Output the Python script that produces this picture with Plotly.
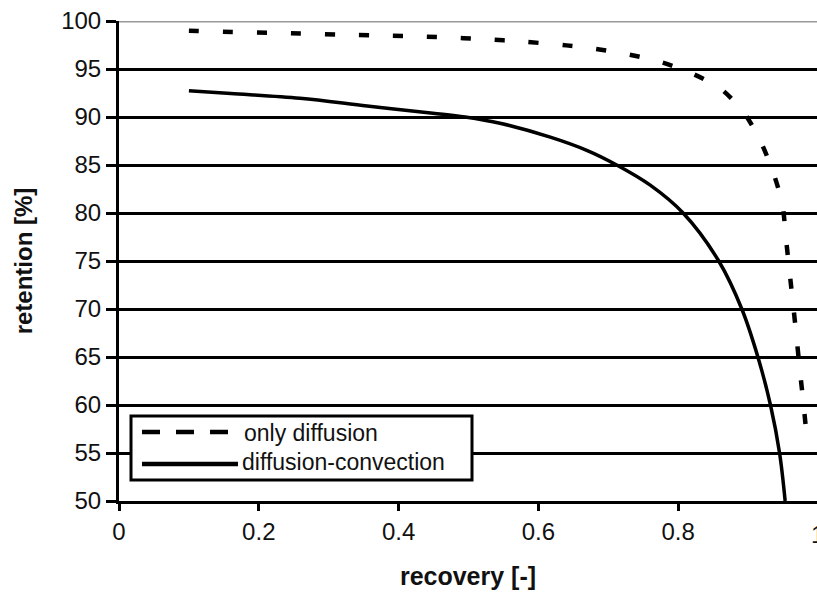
import plotly.graph_objects as go

# recovery [-] vs retention [%]
diff_x = [0.100, 0.112, 0.162, 0.213, 0.260, 0.313, 0.365, 0.415, 0.465, 0.520, 0.580,
          0.640, 0.680, 0.720, 0.769, 0.814, 0.860, 0.893, 0.918, 0.936, 0.949, 0.954,
          0.959, 0.964, 0.969, 0.974, 0.979, 0.984]
diff_y = [98.98, 98.96, 98.86, 98.78, 98.70, 98.58, 98.50, 98.42, 98.30, 98.12, 97.84,
          97.46, 97.12, 96.64, 95.86, 94.72, 92.99, 90.55, 87.43, 84.20, 80.94, 77.47,
          74.06, 70.73, 67.29, 63.65, 60.31, 56.60]

conv_x = [0.100, 0.160, 0.259, 0.355, 0.449, 0.495, 0.545, 0.617, 0.670, 0.712, 0.760,
          0.807, 0.858, 0.891, 0.914, 0.932, 0.945, 0.953]
conv_y = [92.74, 92.45, 91.95, 91.15, 90.40, 90.00, 89.35, 87.90, 86.50, 85.00, 82.90,
          80.00, 75.00, 70.00, 65.00, 60.00, 55.00, 50.00]

series_names = ["only diffusion", "diffusion-convection"]
x_ticks = [0, 0.2, 0.4, 0.6, 0.8]
x_tick_text = ["0", "0.2", "0.4", "0.6", "0.8"]
y_ticks = [50, 55, 60, 65, 70, 75, 80, 85, 90, 95, 100]

W, H = 817, 592
ML, MR, MT, MB = 119, 0, 21, 91
PW, PH = W - ML - MR, H - MT - MB
X_MAX = PW / 699.0          # the axis runs to 1.0 just past the right edge

FONT = "Arial, Liberation Sans, sans-serif"
INK = "#111111"


def px_x(p):
    return (p - ML) / PW


def px_y(p):
    return (H - MB - p) / PH


fig = go.Figure()
fig.add_trace(go.Scatter(
    x=diff_x, y=diff_y, mode="lines", name=series_names[0],
    line=dict(color="black", width=4.5, dash="10px,24px", shape="spline", smoothing=0.8),
    showlegend=False))
fig.add_trace(go.Scatter(
    x=conv_x, y=conv_y, mode="lines", name=series_names[1],
    line=dict(color="black", width=3.5, shape="spline", smoothing=1.0),
    showlegend=False))

shapes = [
    # lighter top border line at 100
    dict(type="line", xref="paper", yref="y", x0=0, x1=1, y0=100, y1=100,
         line=dict(color="#999999", width=3), layer="above"),
    # legend frame
    dict(type="rect", xref="paper", yref="paper",
         x0=px_x(131), x1=px_x(472), y0=px_y(480), y1=px_y(416),
         fillcolor="white", line=dict(color="black", width=3), layer="above"),
    dict(type="line", xref="paper", yref="paper",
         x0=px_x(142), x1=px_x(229), y0=px_y(432), y1=px_y(432),
         line=dict(color="black", width=4.5, dash="18px,16px"), layer="above"),
    dict(type="line", xref="paper", yref="paper",
         x0=px_x(142), x1=px_x(238), y0=px_y(464), y1=px_y(464),
         line=dict(color="black", width=4.5), layer="above"),
]

annotations = [
    dict(text=series_names[0], xref="paper", yref="paper", x=px_x(242), y=px_y(433),
         xanchor="left", yanchor="middle", showarrow=False,
         font=dict(family=FONT, size=23, color=INK)),
    dict(text=series_names[1], xref="paper", yref="paper", x=px_x(240), y=px_y(462),
         xanchor="left", yanchor="middle", showarrow=False,
         font=dict(family=FONT, size=23, color=INK)),
    # tick label for 1.0, which sits on the right edge
    dict(text="1", xref="paper", yref="paper", x=1.0 / X_MAX, y=px_y(534),
         xanchor="center", yanchor="middle", showarrow=False,
         font=dict(family=FONT, size=24, color=INK)),
]

fig.update_layout(
    width=W, height=H,
    margin=dict(l=ML, r=MR, t=MT, b=MB, pad=0),
    paper_bgcolor="white", plot_bgcolor="white",
    font=dict(family=FONT, color=INK),
    shapes=shapes, annotations=annotations,
)

fig.update_xaxes(
    range=[0, X_MAX], tickvals=x_ticks, ticktext=x_tick_text,
    showgrid=False, zeroline=False,
    showline=True, linecolor="black", linewidth=3,
    ticks="outside", ticklen=7, tickwidth=2.5, tickcolor="black",
    tickfont=dict(family=FONT, size=24, color=INK),
    title=dict(text="<b>recovery [-]</b>", font=dict(family=FONT, size=25, color=INK), standoff=24),
)
fig.update_yaxes(
    range=[50, 100], tickvals=y_ticks,
    showgrid=True, gridcolor="black", gridwidth=2.5, zeroline=False,
    showline=True, linecolor="black", linewidth=3,
    ticks="outside", ticklen=10, tickwidth=2.5, tickcolor="black",
    tickfont=dict(family=FONT, size=24, color=INK),
    title=dict(text="<b>retention [%]</b>", font=dict(family=FONT, size=24, color=INK), standoff=22),
)

fig.write_html("out.html")
